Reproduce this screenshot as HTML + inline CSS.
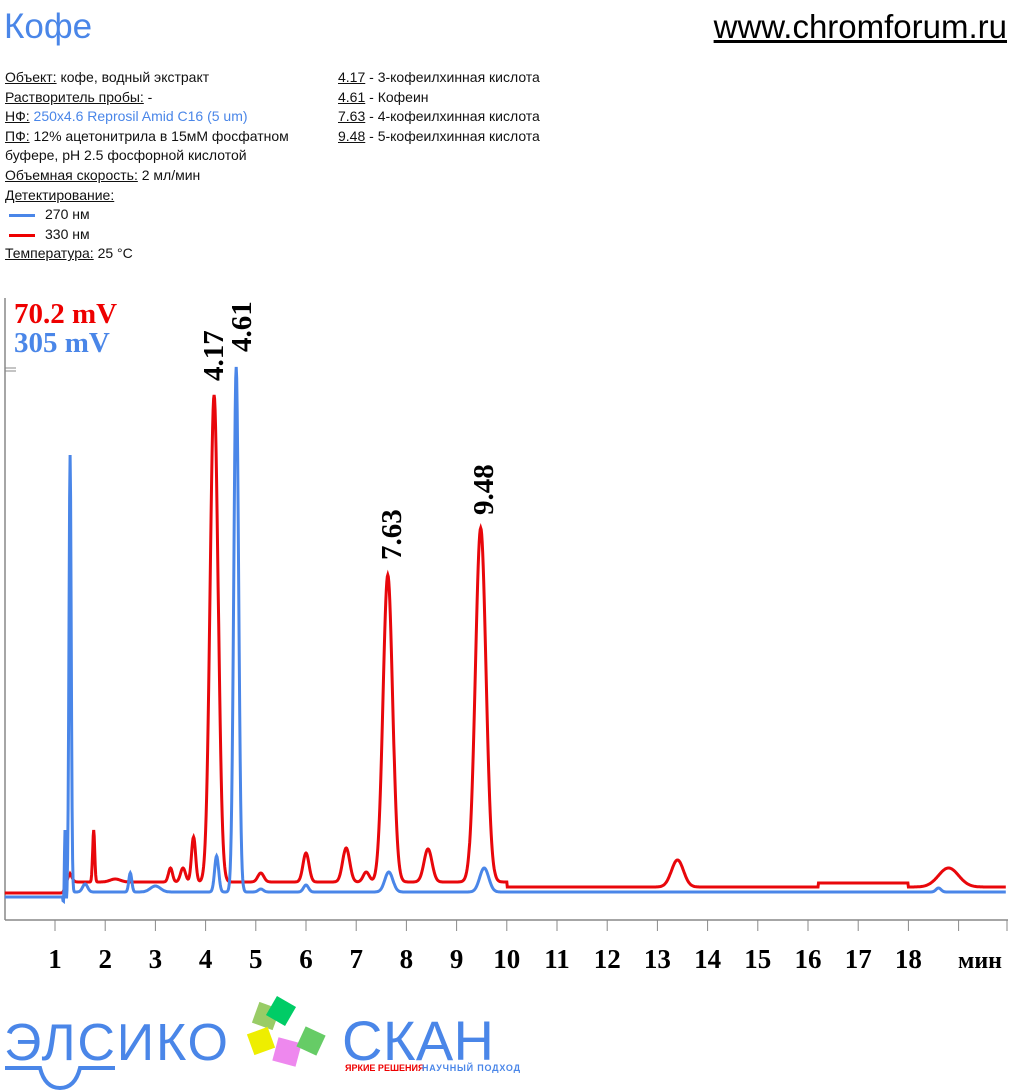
<!DOCTYPE html>
<html><head><meta charset="utf-8"><style>
body{margin:0;background:#fff;width:1011px;height:1092px;overflow:hidden;font-family:"Liberation Sans",sans-serif}
.t{position:absolute;white-space:nowrap}
u{text-decoration:underline}
</style></head><body>
<div class="t" style="left:4px;top:7px;font-size:35px;color:#4a86e8">Кофе</div>
<div class="t" style="right:4px;top:8px;font-size:33px;color:#000;text-decoration:underline">www.chromforum.ru</div>
<div class="t" style="left:5px;top:68px;font-size:14px;line-height:19.6px;color:#111">
<u>Объект:</u> кофе, водный экстракт<br>
<u>Растворитель пробы:</u> -<br>
<u>НФ:</u> <span style="color:#4a86e8">250x4.6 Reprosil Amid C16 (5 um)</span><br>
<u>ПФ:</u> 12% ацетонитрила в 15мМ фосфатном<br>
буфере, pH 2.5 фосфорной кислотой<br>
<u>Объемная скорость:</u> 2 мл/мин<br>
<u>Детектирование:</u><br>
<span style="display:inline-block;width:26px;height:3px;background:#4a86e8;vertical-align:middle;margin:0 10px 0 4px"></span>270 нм<br>
<span style="display:inline-block;width:26px;height:3px;background:#e00;vertical-align:middle;margin:0 10px 0 4px"></span>330 нм<br>
<u>Температура:</u> 25 °C</div>
<div class="t" style="left:338px;top:68px;font-size:14px;line-height:19.6px;color:#111">
<u>4.17</u> - 3-кофеилхинная кислота<br><u>4.61</u> - Кофеин<br><u>7.63</u> - 4-кофеилхинная кислота<br><u>9.48</u> - 5-кофеилхинная кислота</div>
<svg id="s" width="1011" height="1092" style="position:absolute;left:0;top:0" font-family="Liberation Serif,serif" font-weight="bold">
<line x1="5" y1="298" x2="5" y2="920" stroke="#888" stroke-width="1.5"/>
<line x1="5" y1="920" x2="1008" y2="920" stroke="#888" stroke-width="1.5"/>
<line x1="5" y1="368" x2="16" y2="368" stroke="#888"/><line x1="5" y1="371" x2="16" y2="371" stroke="#888"/>
<g id="ticks" stroke="#888"></g>
<path id="red" fill="none" stroke="#e8070b" stroke-width="3"/>
<path id="blue" fill="none" stroke="#4a86e8" stroke-width="3"/>
<text x="14" y="323" font-size="29" fill="#e00">70.2 mV</text>
<text x="14" y="352" font-size="29" fill="#4a86e8">305 mV</text>
<text transform="translate(223,381) rotate(-90)" font-size="29">4.17</text>
<text transform="translate(251,352) rotate(-90)" font-size="29">4.61</text>
<text transform="translate(401,560) rotate(-90)" font-size="29">7.63</text>
<text transform="translate(493,515) rotate(-90)" font-size="29">9.48</text>
<g id="lab" font-size="27" text-anchor="middle"></g>
<text x="980" y="968" font-size="24" text-anchor="middle">мин</text>
<text x="4" y="1060" font-size="52" font-weight="normal" font-family="Liberation Sans,sans-serif" fill="#4a86e8" textLength="224">ЭЛСИКО</text>
<path d="M5,1068 H40 Q45,1088 60,1088 Q75,1088 80,1068 H115" fill="none" stroke="#4a86e8" stroke-width="4"/>
<rect x="255" y="1005" width="22" height="22" fill="#9c6" transform="rotate(20 266 1016)"/>
<rect x="270" y="1000" width="22" height="22" fill="#0c6" transform="rotate(30 281 1011)"/>
<rect x="250" y="1030" width="22" height="22" fill="#ee0" transform="rotate(-20 261 1041)"/>
<rect x="275" y="1040" width="24" height="24" fill="#e8e" transform="rotate(15 287 1052)"/>
<rect x="300" y="1030" width="22" height="22" fill="#6c6" transform="rotate(25 311 1041)"/>
<text x="342" y="1060" font-size="56" font-weight="normal" font-family="Liberation Sans,sans-serif" fill="#4a86e8" textLength="152">СКАН</text>
<text x="345" y="1071" font-size="9" font-family="Liberation Sans,sans-serif" fill="#e00">ЯРКИЕ РЕШЕНИЯ</text>
<text x="422" y="1071" font-size="9" font-family="Liberation Sans,sans-serif" fill="#4a86e8" textLength="98">НАУЧНЫЙ ПОДХОД</text>
</svg>
<script>
var X=t=>55+50.2*(t-1);
var tk='',lb='';
for(var n=1;n<=19;n++){var x=X(n);tk+='<line x1="'+x+'" y1="920" x2="'+x+'" y2="931"/>';if(n<=18)lb+='<text x="'+x+'" y="968">'+n+'</text>';}
tk+='<line x1="1007" y1="920" x2="1007" y2="931"/>';
document.getElementById('ticks').innerHTML=tk;document.getElementById('lab').innerHTML=lb;
function g(t,c,h,s){return h*Math.exp(-Math.pow((t-c)/s,2)/2);}
function redB(t){if(t<1.15)return 893;if(t<1.3)return 893-(t-1.15)/0.15*10;if(t<10)return 882;if(t>16.2&&t<18)return 883;return 887;}
var RP=[[1.28,9,0.05],[1.77,52,0.02],[2.2,3,0.1],[3.3,14,0.04],[3.55,14,0.05],[3.76,45,0.04],[4.17,487,0.08],[5.1,9,0.06],[6.0,29,0.06],[6.8,34,0.07],[7.2,10,0.06],[7.63,307,0.095],[8.43,33,0.08],[9.48,354,0.105],[13.4,27,0.12],[18.8,19,0.2]];
function blueB(t){if(t<1.15)return 897;if(t<1.25)return 897+13*Math.sin((t-1.15)/0.1*Math.PI);return 892;}
var BP=[[1.2,80,0.012],[1.3,437,0.022],[1.6,8,0.05],[2.5,19,0.03],[3.0,6,0.1],[4.22,36,0.04],[4.61,525,0.048],[5.1,3,0.05],[6.0,7,0.05],[7.65,20,0.08],[9.55,24,0.09],[18.6,4,0.05]];
function path(B,P){var d='';for(var t=0;t<=19.95;t+=0.01){var y=B(t);P.forEach(p=>{y-=g(t,p[0],p[1],p[2]);});d+=(d?'L':'M')+X(t).toFixed(1)+','+y.toFixed(1);}return d;}
document.getElementById('red').setAttribute('d',path(redB,RP));
document.getElementById('blue').setAttribute('d',path(blueB,BP));
</script>
</body></html>
